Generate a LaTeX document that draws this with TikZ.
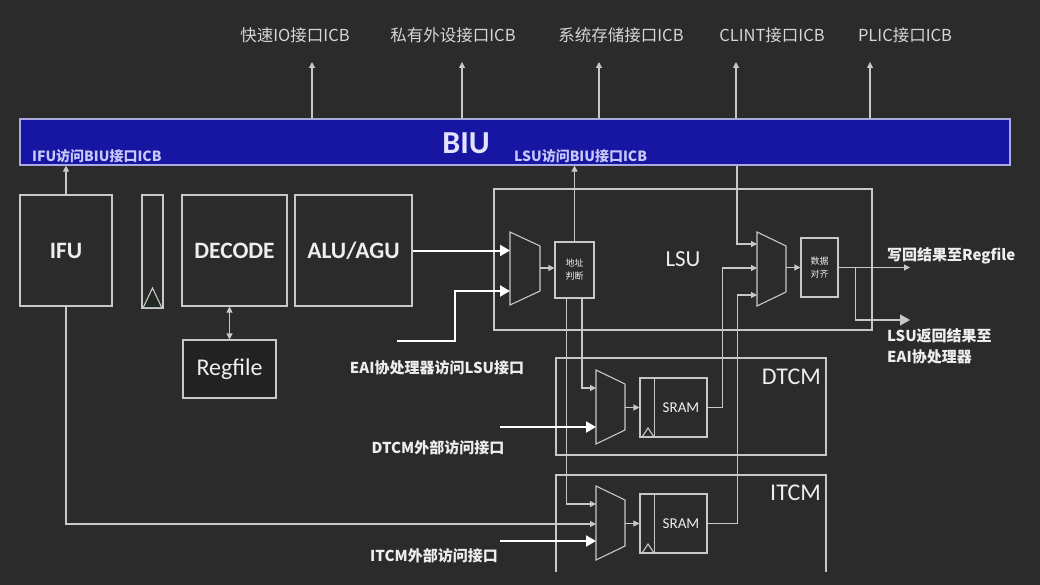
\documentclass[tikz,border=0pt]{standalone}
\usepackage{fontspec}
\setmainfont{Carlito}
\newfontfamily\cjk{Noto Sans CJK SC}
\usetikzlibrary{arrows.meta}
\definecolor{bgc}{RGB}{43,43,43}
\definecolor{linec}{RGB}{200,200,200}
\definecolor{biuc}{RGB}{22,22,162}
\definecolor{biue}{RGB}{170,170,225}
\definecolor{txtc}{RGB}{238,238,238}
\definecolor{lavc}{RGB}{200,200,250}
\definecolor{tric}{RGB}{32,42,34}
\tikzset{
  box/.style={draw=linec, line width=1.1pt, fill=bgc, text=txtc, inner sep=0pt},
  frame/.style={draw=linec, line width=1.1pt, text=txtc, inner sep=0pt},
  wire/.style={draw=linec, line width=1.1pt},
  arr/.style={wire, -{Triangle[width=6pt,length=6pt]}},
  bigarr/.style={draw=white, line width=2pt, -{Triangle[width=11pt,length=10pt]}},
  unit/.style={box, font=\bfseries\fontsize{23.5}{23.5}\selectfont},
  toplbl/.style={text=txtc!90!black, font=\cjk\fontsize{16.5}{16.5}\selectfont},
  lav/.style={text=lavc, font=\cjk\bfseries\fontsize{14}{14}\selectfont, inner sep=0pt},
  lbl/.style={text=txtc, font=\cjk\bfseries\fontsize{15}{15}\selectfont, inner sep=0pt},
  memlbl/.style={text=txtc, font=\fontsize{24}{24}\selectfont, inner sep=0pt},
  tiny/.style={box, align=center, font=\cjk\fontsize{9}{13}\selectfont}
}
\begin{document}
\begin{tikzpicture}[x=1pt,y=-1pt]
\fill[bgc] (0,0) rectangle (1040,585);
\useasboundingbox (0,0) rectangle (1040,585);

% BIU bar and its ports
\node[draw=biue, fill=biuc, line width=1.2pt, minimum width=990, minimum height=46, inner sep=0pt] (biu) at (515,142) {};
\node[text=lavc!50!white, font=\bfseries\fontsize{32}{32}\selectfont] (biut) at (466,143) {BIU};
\node[lav, anchor=west] (ifubiu) at (32,156) {IFU访问BIU接口ICB};
\node[lav, anchor=west] (lsubiu) at (514,156) {LSU访问BIU接口ICB};
\foreach \n/\x/\t in {io/295/快速IO接口ICB, ppi/453/私有外设接口ICB, mem/621/系统存储接口ICB, clint/772/CLINT接口ICB, plic/905/PLIC接口ICB}
  \node[toplbl] (\n) at (\x,35) {\t};
\foreach \n/\x in {io/312, ppi/462, mem/599, clint/736, plic/870} {
  \coordinate (\n-up) at (\x,62);
  \draw[arr] (biu.north -| \n-up) -- (\n-up);
}

% containers
\node[frame, minimum width=378, minimum height=141, font=\fontsize{23}{23}\selectfont] (lsu) at (683,259.5) {LSU};
\node[frame, minimum width=270, minimum height=97] (dtcm) at (691,406.5) {};
\node[memlbl, anchor=north east] (dtcml) at (821,369) {DTCM};
\draw[wire] (556,572) |- (826,475) -- (826,572);
\node[memlbl, anchor=north east] (itcml) at (821,485) {ITCM};

% pipeline
\node[unit, minimum width=92, minimum height=111] (ifu) at (66,250.5) {IFU};
\node[box, minimum width=21, minimum height=113] (preg) at (152.5,251.5) {};
\draw[wire, fill=tric] (143.5,307) -- (152.5,288) -- (161.5,307);
\node[unit, minimum width=105, minimum height=111] (dec) at (234.5,250.5) {DECODE};
\node[unit, minimum width=117, minimum height=111] (alu) at (353.5,250.5) {ALU/AGU};
\node[box, fill=black!20!bgc, minimum width=93, minimum height=58, font=\fontsize{24}{24}\selectfont] (reg) at (229.5,369) {Regfile};
\draw[wire, {Triangle[width=6pt,length=6pt]}-{Triangle[width=6pt,length=6pt]}] (reg.north) -- (reg.north |- dec.south);
\draw[arr] (ifu.north) -- (ifu.north |- biu.south);

% LSU internals
\draw[wire, fill=bgc] (510,232) -- (540,246) -- (540,291) -- (510,305) -- cycle;
\coordinate (m1a) at (510,250.5);
\coordinate (m1b) at (510,291);
\coordinate (m1o) at (540,268);
\node[tiny, minimum width=39, minimum height=56] (addr) at (574.5,270) {地址\\判断};
\draw[wire, fill=bgc] (757,232) -- (786,246) -- (786,292) -- (757,306) -- cycle;
\coordinate (m2a) at (757,244);
\coordinate (m2b) at (757,268);
\coordinate (m2c) at (757,295);
\coordinate (m2o) at (786,267.5);
\node[tiny, minimum width=37, minimum height=59] (align) at (819.5,267.5) {数据\\对齐};

% DTCM internals
\draw[wire, fill=bgc] (596,370) -- (625,384) -- (625,430) -- (596,444) -- cycle;
\coordinate (dm1) at (596,388);
\coordinate (dm2) at (596,427);
\coordinate (dmo) at (625,407.5);
\node[box, minimum width=67, minimum height=59] (dsram) at (673.5,407.5) {};
\node[text=txtc, font=\fontsize{15}{15}\selectfont] (dsramt) at (681,407.5) {SRAM};
\draw[wire] ([xshift=15]dsram.north west) -- ([xshift=15]dsram.south west);
\draw[wire] (642,437) -- (648,428) -- (654,437);

% ITCM internals
\draw[wire, fill=bgc] (596,486) -- (625,500) -- (625,546) -- (596,560) -- cycle;
\coordinate (im1) at (596,504);
\coordinate (im2) at (596,524);
\coordinate (im3) at (596,541);
\coordinate (imo) at (625,523.5);
\node[box, minimum width=67, minimum height=59] (isram) at (673.5,523.5) {};
\node[text=txtc, font=\fontsize{15}{15}\selectfont] (isramt) at (681,523.5) {SRAM};
\draw[wire] ([xshift=15]isram.north west) -- ([xshift=15]isram.south west);
\draw[wire] (642,553) -- (648,544) -- (654,553);

% connections
\draw[bigarr] (alu.east) -- (alu.east -| m1a);
\coordinate (eai) at (397,341);
\draw[bigarr] (eai) -- ++(58,0) |- (m1b);
\node[lbl] (eail) at (437,368) {EAI协处理器访问LSU接口};
\draw[arr] (m1o) -- (addr.west |- m1o);
\draw[arr] (addr.north) -- (addr.north |- biu.south);
\draw[arr] ([xshift=7.5]addr.south) |- (dm1);
\draw[arr] ([xshift=-8]addr.south) |- (im1);
\coordinate (dext) at (500,427);
\draw[bigarr] (dext) -- (dm2);
\node[lbl] (dextl) at (438,448) {DTCM外部访问接口};
\draw[arr] (ifu.south) |- (im2);
\coordinate (iext) at (500,541);
\draw[bigarr] (iext) -- (im3);
\node[lbl] (iextl) at (434,556) {ITCM外部访问接口};
\draw[arr] (dmo) -- (dsram.west |- dmo);
\draw[arr] (imo) -- (isram.west |- imo);
\draw[arr] (dsram.east) -- ++(15,0) |- (m2b);
\draw[arr] (isram.east) -- ++(30,0) |- (m2c);
\coordinate (m2t) at (737,244);
\draw[arr] (m2t |- biu.south) -- (m2t) -- (m2a);
\draw[arr] (m2o) -- (align.west |- m2o);
\coordinate (wb) at (910,267.5);
\draw[arr] (align.east) -- (wb);
\node[lbl, anchor=west] (wbl) at (887,256) {写回结果至Regfile};
\coordinate (eo) at (910,320);
\draw[bigarr, draw=linec, line width=1.6pt] ([xshift=17]align.east) |- (eo);
\node[lbl, anchor=north west, align=left, font=\cjk\bfseries\fontsize{15}{21}\selectfont] (eol) at (887,328) {LSU返回结果至\\EAI协处理器};
\end{tikzpicture}
\end{document}
